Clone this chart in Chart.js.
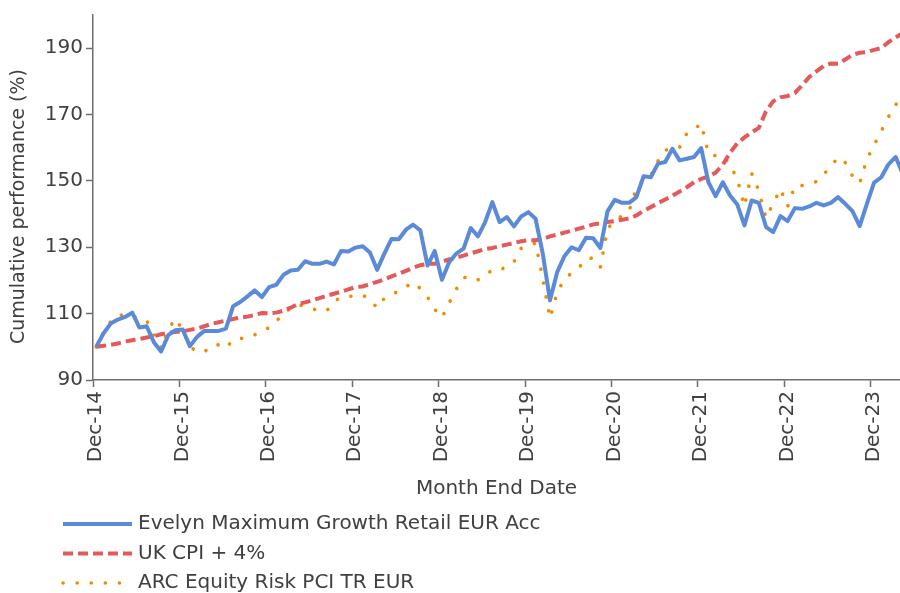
<!DOCTYPE html>
<html>
<head>
<meta charset="utf-8">
<script src="https://cdn.jsdelivr.net/npm/chart.js@4.4.1/dist/chart.umd.min.js"></script>
<style>
  html, body { margin: 0; padding: 0; background: #ffffff; }
  #wrap { width: 900px; height: 593px; position: relative; }
</style>
</head>
<body>
<div id="wrap"><canvas id="c" width="900" height="593"></canvas></div>
<script>
// Monthly values, index 0 = Dec-14 ... index 112 = Apr-24
const evelyn = [
  100, 104, 107, 108.2, 109, 110.3, 105.8, 106.2, 101.4, 98.6, 103.5, 105,
  105.2, 100.2, 103, 104.8, 104.8, 104.8, 105.5, 112.2, 113.5, 115.2, 117, 115,
  118, 118.7, 121.7, 123, 123.2, 125.8, 125, 125, 125.7, 124.8, 128.9, 128.7,
  129.9, 130.3, 128.4, 123.2, 128.1, 132.5, 132.4, 135.3, 136.8, 135.1, 124.5, 128.9,
  120.2, 125.5, 128.1, 129.6, 135.8, 133.3, 137.6, 143.6, 137.6, 139.1, 136.3, 139.3,
  140.6, 138.6, 128.1, 114, 122.5, 127.3, 130, 129.1, 132.9, 132.7, 129.8, 140.9,
  144.3, 143.4, 143.4, 145.1, 151.4, 151.1, 155.2, 155.7, 159.7, 156.2, 156.7, 157.2,
  159.9, 149.6, 145.4, 149.6, 145.6, 142.9, 136.6, 144.1, 143.4, 136.1, 134.6, 139.4,
  137.9, 141.8, 141.6, 142.3, 143.4, 142.6, 143.4, 145.1, 143.1, 140.9, 136.4, 143.1,
  149.5, 151.1, 155, 157.2, 152
];
const cpiPlus4 = [
  100, 100.3, 100.6, 101, 101.6, 102, 102.4, 102.8, 103.2, 103.8, 104.2, 104.5,
  104.7, 105.1, 105.5, 106.2, 106.9, 107.4, 107.9, 108.4, 108.8, 109.1, 109.6, 110.2,
  110.1, 110.3, 110.9, 111.8, 112.9, 113.4, 114, 114.7, 115.4, 116, 116.6, 117.3,
  118, 118.2, 118.9, 119.6, 120.3, 121.2, 122, 122.9, 123.8, 124.6, 125, 125,
  125.7, 126.3, 126.9, 127.5, 128.2, 128.8, 129.5, 129.8, 130.3, 130.8, 131.3, 131.8,
  132.1, 132.1, 132.5, 133.3, 133.8, 134.4, 135, 135.6, 136.2, 136.9, 137.2, 137.6,
  137.9, 138.3, 138.7, 139.6, 141, 142.1, 143.3, 144.4, 145.5, 146.8, 148.1, 149.6,
  150.6, 151.3, 152.5, 154.9, 158.5, 161.3, 163.1, 164.6, 166, 171, 174, 175.2,
  175.6, 176.5, 178.8, 181.3, 183, 184.6, 185.4, 185.3, 186.6, 188, 188.6, 188.8,
  189.5, 190, 191.8, 193.3, 194.5
];
const arcEquity = [
  100, 104.3, 107.6, 109.6, 109.6, 109.2, 108.4, 108, 103.2, 99.5, 105.3, 108.5,
  105, 100, 98.6, 98.4, 100.4, 100.6, 99.6, 102.1, 102.5, 102.7, 103.6, 104.7,
  105.8, 107.6, 110.3, 111.6, 112.7, 112.2, 111.4, 111, 110.8, 113.6, 115, 115.2,
  115.3, 115.6, 114.3, 111.7, 114.6, 115.9, 116.7, 118.1, 119.4, 117.6, 115, 111.3,
  108.8, 113.2, 117.4, 120.8, 121.2, 120.2, 121.5, 123.2, 123.1, 124.2, 125.6, 129.7,
  130.3, 131.3, 120.5, 108.6, 116.4, 120.4, 122.2, 123.8, 126.5, 126.8, 124, 135.8,
  137.6, 139.6, 141, 147.8, 150.5, 151.6, 156, 159.2, 160.1, 160.1, 164.3, 165.5,
  167.3, 158.2, 157.6, 157.6, 154.8, 150.6, 142.3, 152.3, 147, 138.8, 143.2, 147.6,
  142.3, 148.5, 148.6, 149.2, 149.8, 152, 154.3, 157.1, 155.5, 151.5, 149.3, 156.5,
  160.8, 165, 169.3, 173, 175
];
const seriesNames = ['Evelyn Maximum Growth Retail EUR Acc', 'UK CPI + 4%', 'ARC Equity Risk PCI TR EUR'];
const xTickLabels = ['Dec-14','Dec-15','Dec-16','Dec-17','Dec-18','Dec-19','Dec-20','Dec-21','Dec-22','Dec-23'];
const yTickValues = [90, 110, 130, 150, 170, 190];

const FONT = '"DejaVu Sans", sans-serif';
const TEXT = '#404040';
const AXIS = '#6e6e6e';
const TICK_SHIFT = -0.45;   // tick marks sit just before each December point

const toXY = arr => arr.map((v, i) => ({x: i, y: v}));

const stackedLegend = {
  id: 'stackedLegend',
  afterDraw(chart) {
    const ctx = chart.ctx;
    ctx.save();
    chart.data.datasets.forEach((ds, k) => {
      const y = 524 + k * 29.5;
      ctx.beginPath();
      ctx.strokeStyle = ds.borderColor;
      ctx.lineWidth = ds.borderWidth;
      ctx.setLineDash(ds.borderDash || []);
      ctx.lineCap = ds.borderCapStyle || 'butt';
      ctx.moveTo(63, y);
      ctx.lineTo(132, y);
      ctx.stroke();
      ctx.setLineDash([]);
      ctx.fillStyle = TEXT;
      ctx.font = '20px ' + FONT;
      ctx.textBaseline = 'middle';
      ctx.textAlign = 'left';
      ctx.fillText(ds.label, 138, y);
    });
    ctx.restore();
  }
};

new Chart(document.getElementById('c'), {
  type: 'line',
  data: {
    datasets: [
      { label: seriesNames[0], data: toXY(evelyn), borderColor: '#5a8ad8', borderWidth: 4, pointRadius: 0, tension: 0, borderJoinStyle: 'round' },
      { label: seriesNames[1], data: toXY(cpiPlus4), borderColor: '#e45a5a', borderWidth: 4, borderDash: [10, 5], pointRadius: 0, tension: 0 },
      { label: seriesNames[2], data: toXY(arcEquity), borderColor: '#f08c00', borderWidth: 3.6, borderDash: [0.1, 14], borderCapStyle: 'round', pointRadius: 0, tension: 0 }
    ]
  },
  options: {
    responsive: false,
    animation: false,
    layout: { padding: { top: 15, right: 0, bottom: 88, left: 0 } },
    plugins: { legend: { display: false }, tooltip: { enabled: false } },
    scales: {
      x: {
        type: 'linear',
        min: TICK_SHIFT,
        max: 111.6,
        afterBuildTicks(scale) {
          scale.ticks = xTickLabels.map((_, k) => ({ value: k * 12 + TICK_SHIFT }));
        },
        afterFit(scale) { scale.height = 125; },
        border: { display: true, color: AXIS, width: 1.5 },
        grid: { display: true, drawOnChartArea: false, drawTicks: true, tickLength: 7, color: AXIS, tickWidth: 1.5 },
        ticks: {
          autoSkip: false,
          maxRotation: 90,
          minRotation: 90,
          labelOffset: 3,
          padding: 4,
          color: TEXT,
          font: { family: FONT, size: 20 },
          callback: (v, idx) => xTickLabels[idx]
        },
        title: { display: true, text: 'Month End Date', color: TEXT, font: { family: FONT, size: 20 }, padding: { top: 4, bottom: 4 } }
      },
      y: {
        type: 'linear',
        min: 90,
        max: 200,
        afterBuildTicks(scale) {
          scale.ticks = yTickValues.map(v => ({ value: v }));
        },
        afterFit(scale) { scale.width = 93; },
        border: { display: true, color: AXIS, width: 1.5 },
        grid: { display: true, drawOnChartArea: false, drawTicks: true, tickLength: 7, color: AXIS, tickWidth: 1.5 },
        ticks: { color: TEXT, font: { family: FONT, size: 20 }, padding: 3 },
        title: { display: true, text: 'Cumulative performance (%)   ', color: TEXT, font: { family: FONT, size: 19 }, padding: { top: 8, bottom: 4 } }
      }
    }
  },
  plugins: [stackedLegend]
});
</script>
</body>
</html>
